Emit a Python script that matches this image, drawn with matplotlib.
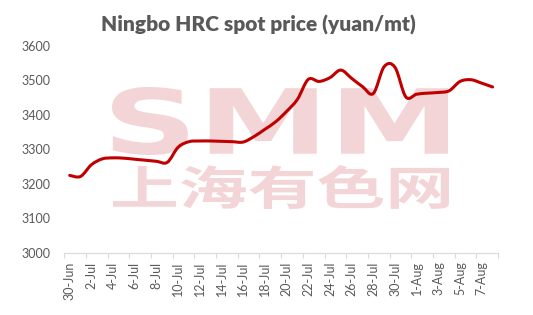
import matplotlib
matplotlib.use('Agg')
import matplotlib.pyplot as plt
import numpy as np
from matplotlib.textpath import TextPath
from matplotlib.font_manager import FontProperties
from matplotlib.patches import PathPatch
from matplotlib.path import Path
from matplotlib.transforms import Affine2D

# daily spot price, 30-Jun .. 8-Aug (one value per calendar day)
prices = [3224, 3221, 3255, 3272, 3275, 3274, 3271, 3268, 3265, 3262,
          3306, 3322, 3324, 3324, 3323, 3322, 3321, 3337, 3358, 3380,
          3410, 3445, 3503, 3497, 3508, 3530, 3506, 3482, 3462, 3540,
          3538, 3452, 3460, 3463, 3465, 3470, 3497, 3502, 3492, 3481]
tick_labels = ['30-Jun', '2-Jul', '4-Jul', '6-Jul', '8-Jul', '10-Jul', '12-Jul',
               '14-Jul', '16-Jul', '18-Jul', '20-Jul', '22-Jul', '24-Jul',
               '26-Jul', '28-Jul', '30-Jul', '1-Aug', '3-Aug', '5-Aug', '7-Aug']
y_ticks = [3000, 3100, 3200, 3300, 3400, 3500, 3600]

W, H = 533, 315
GREY = '#595959'
plt.rcParams['font.family'] = ['Lato', 'DejaVu Sans']

fig = plt.figure(figsize=(W / 100, H / 100), dpi=100, facecolor='white')
ax = fig.add_axes([64.3 / W, 1 - 252.5 / H, (498 - 64.3) / W, (252.5 - 46) / H])


def smooth_path(xs, ys):
    # Excel-style smoothed line: bezier segments through the data points
    pts = np.column_stack([xs, ys]).astype(float)
    n = len(pts)
    verts = [pts[0]]
    codes = [Path.MOVETO]
    for i in range(n - 1):
        p0 = pts[max(i - 1, 0)]
        p1 = pts[i]
        p2 = pts[i + 1]
        p3 = pts[min(i + 2, n - 1)]
        c1 = p1 + (p2 - p0) / 6
        c2 = p2 - (p3 - p1) / 6
        verts += [c1, c2, p2]
        codes += [Path.CURVE4] * 3
    return Path(verts, codes)


x = np.arange(len(prices))
line = PathPatch(smooth_path(x, prices), facecolor='none', edgecolor='#c00000',
                 lw=2.2, zorder=3, capstyle='round', joinstyle='round')
ax.add_patch(line)

ax.set_xlim(-0.5, len(prices) - 0.5)
ax.set_ylim(3000, 3600)
ax.set_yticks(y_ticks)
ax.set_yticklabels([str(v) for v in y_ticks])
ax.tick_params(axis='y', length=0, pad=10, labelsize=9, labelcolor=GREY)

ax.set_xticks(np.arange(0, len(prices), 2))
ax.set_xticklabels(tick_labels, rotation=90, va='top', ha='center')
ax.set_xticks(np.arange(-0.5, len(prices), 2), minor=True)
ax.tick_params(axis='x', which='major', length=0, pad=6.5, labelsize=9, labelcolor=GREY)
ax.tick_params(axis='x', which='minor', length=3.5, width=0.8, color='#d9d9d9')

for s in ['top', 'right', 'left']:
    ax.spines[s].set_visible(False)
ax.spines['bottom'].set_color('#d9d9d9')
ax.spines['bottom'].set_linewidth(0.8)


def watermark(text, family, box):
    # stretch the text outline into a pixel box (x0, y0top, x1, y1bottom)
    tp = TextPath((0, 0), text, prop=FontProperties(family=family, weight='bold'), size=50)
    ext = tp.get_extents()
    x0, yt, x1, yb = box
    fx0, fx1 = x0 / W, x1 / W
    fy0, fy1 = 1 - yb / H, 1 - yt / H
    tr = Affine2D().translate(-ext.x0, -ext.y0).scale(
        (fx1 - fx0) / ext.width, (fy1 - fy0) / ext.height).translate(fx0, fy0)
    patch = PathPatch(tr.transform_path(tp), transform=fig.transFigure,
                      facecolor='#f4d5d7', edgecolor='none', zorder=1, clip_on=False)
    ax.add_patch(patch)


watermark('SMM', 'DejaVu Sans', (112, 87, 448, 155))
watermark('上海有色网', 'Noto Sans CJK SC', (113, 165, 449, 209))

fig.text(258 / W, 1 - 25 / H, 'Ningbo HRC spot price (yuan/mt)', ha='center', va='center',
         fontsize=15, fontweight='heavy', color=GREY)

fig.savefig('out.png', dpi=100, facecolor='white')
